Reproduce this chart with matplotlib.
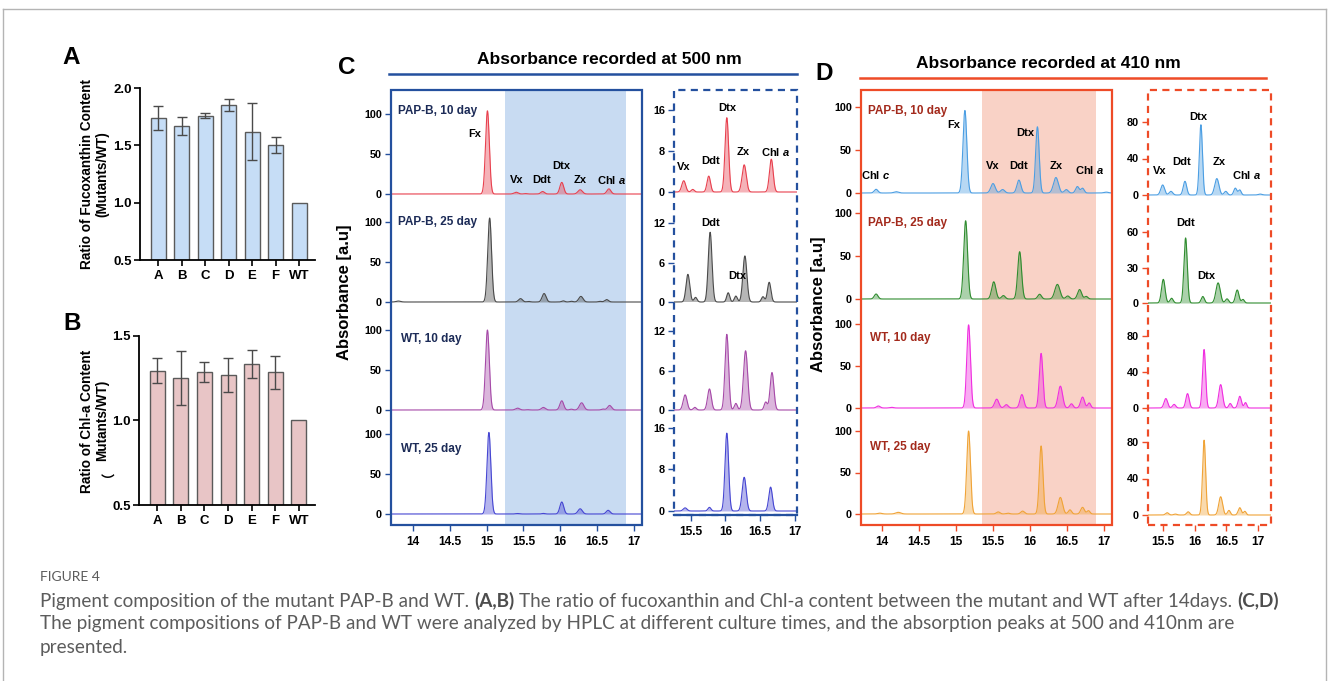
import numpy as np
import matplotlib.pyplot as plt
from matplotlib.patches import Rectangle
from matplotlib.lines import Line2D

W, H = 1328, 681

plt.rcParams['font.family'] = ['Liberation Sans', 'DejaVu Sans']
plt.rcParams['font.weight'] = 'bold'
plt.rcParams['mathtext.fontset'] = 'custom'
plt.rcParams['mathtext.rm'] = 'Liberation Sans:bold'
plt.rcParams['mathtext.it'] = 'Liberation Sans:bold:italic'

# ---- A, B : ratio mutant / WT
strains = ['A', 'B', 'C', 'D', 'E', 'F', 'WT']
fx_ratio = [1.74, 1.67, 1.76, 1.85, 1.62, 1.50, 1.00]
fx_sd = [0.106, 0.08, 0.02, 0.05, 0.246, 0.069]
chla_ratio = [1.295, 1.25, 1.288, 1.268, 1.335, 1.285, 1.00]
chla_sd = [0.074, 0.16, 0.06, 0.10, 0.082, 0.097]

# ---- C, D : HPLC peaks  (retention time [min], height, sigma [min])
pap10_500 = [(15.01, 104, 0.026), (15.40, 2.2, 0.028), (15.53, 0.5, 0.022), (15.76, 3.1, 0.025),
             (16.02, 14.5, 0.026), (16.27, 5.3, 0.03), (16.66, 6.4, 0.027)]
pap25_500 = [(13.80, 1.2, 0.03), (15.04, 105, 0.026), (15.46, 4.2, 0.027), (15.57, 0.7, 0.022),
             (15.78, 10.6, 0.027), (16.04, 1.4, 0.022), (16.15, 0.9, 0.022), (16.28, 7.0, 0.029),
             (16.54, 0.8, 0.022), (16.63, 3.0, 0.025)]
wt10_500 = [(15.01, 100, 0.026), (15.42, 2.3, 0.028), (15.56, 0.4, 0.022), (15.77, 3.2, 0.027),
            (16.02, 11.5, 0.026), (16.15, 1.0, 0.022), (16.29, 9.0, 0.03), (16.58, 1.2, 0.022),
            (16.67, 5.7, 0.027)]
wt25_500 = [(15.03, 102, 0.026), (15.42, 0.6, 0.027), (15.77, 0.7, 0.022), (16.02, 15.0, 0.026),
            (16.27, 6.5, 0.029), (16.65, 4.6, 0.026)]

pap10_410 = [(13.92, 4.3, 0.025), (14.19, 1.5, 0.03), (15.12, 96, 0.026), (15.50, 11, 0.03),
             (15.63, 4, 0.028), (15.85, 15, 0.027), (16.10, 77, 0.024), (16.35, 18, 0.033),
             (16.49, 4, 0.025), (16.64, 7.5, 0.024), (16.71, 5.5, 0.022), (17.03, 1, 0.03)]
pap25_410 = [(13.92, 5.8, 0.025), (15.13, 91, 0.026), (15.51, 20, 0.028), (15.64, 4, 0.025),
             (15.86, 55, 0.026), (16.13, 5.5, 0.025), (16.37, 17, 0.034), (16.51, 3.5, 0.025),
             (16.67, 11, 0.027), (16.76, 3, 0.022)]
wt10_410 = [(13.95, 2.4, 0.025), (14.13, 0.8, 0.025), (15.17, 99, 0.025), (15.55, 10.5, 0.028),
            (15.68, 4, 0.025), (15.89, 16, 0.026), (16.15, 65, 0.024), (16.41, 26, 0.03),
            (16.56, 5, 0.022), (16.71, 13, 0.026), (16.80, 6, 0.02)]
wt25_410 = [(13.97, 1, 0.03), (14.22, 2, 0.035), (15.17, 100, 0.025), (15.57, 2.5, 0.025),
            (15.70, 1, 0.025), (15.90, 3.5, 0.025), (16.15, 82, 0.024), (16.41, 20, 0.03),
            (16.54, 5, 0.022), (16.71, 8, 0.025), (16.79, 4, 0.02)]

samples = ['PAP-B, 10 day', 'PAP-B, 25 day', 'WT, 10 day', 'WT, 25 day']
traces_500 = [pap10_500, pap25_500, wt10_500, wt25_500]
traces_410 = [pap10_410, pap25_410, wt10_410, wt25_410]
colors_500 = ['#e8404e', '#4a4a4a', '#a64aa8', '#4646d2']
colors_410 = ['#4b9ee3', '#2f8c2f', '#f02ee0', '#f0a336']

blue = '#24509e'
red = '#ee4b27'

fig = plt.figure(figsize=(W / 100, H / 100), dpi=100)
rend = fig.canvas.get_renderer()


def fx(x):
    return x / W


def fy(y):
    return 1 - y / H


def px_axes(x0, y0, x1, y1):
    return fig.add_axes([fx(x0), fy(y1), (x1 - x0) / W, (y1 - y0) / H])


# card border
for xs, ys in [([3, 1326], [9, 9]), ([3, 3], [9, 681]), ([1326, 1326], [9, 681])]:
    fig.add_artist(Line2D([fx(v) for v in xs], [fy(v) for v in ys], color='#b4b4b4', lw=1))


# ---------------- bar panels ----------------
def bar_panel(box, vals, sd, face, ticks):
    ax = px_axes(*box)
    x = np.arange(len(strains))
    ax.bar(x, vals, width=0.64, color=face, edgecolor='#5a5a5a', lw=1.0, zorder=2)
    ax.errorbar(x[:len(sd)], vals[:len(sd)], yerr=sd, fmt='none', ecolor='#4a4a4a',
                elinewidth=1, capsize=3.5, capthick=1, zorder=3)
    ax.set_xlim(-0.77, 6.68)
    ax.set_ylim(ticks[0], ticks[-1])
    ax.set_yticks(ticks)
    ax.set_yticklabels([f'{t:.1f}' for t in ticks])
    ax.set_xticks(x)
    ax.set_xticklabels(strains)
    for s in ['top', 'right']:
        ax.spines[s].set_visible(False)
    for s in ['left', 'bottom']:
        ax.spines[s].set_linewidth(1.3)
    ax.tick_params(length=4, width=1.2, labelsize=9.5, pad=2)
    ax.tick_params(axis='x', labelsize=9.5, pad=3)
    ax.patch.set_visible(False)
    return ax


bar_panel((140, 88, 315, 260), fx_ratio, fx_sd, '#c6ddf6', [0.5, 1.0, 1.5, 2.0])
bar_panel((139, 336, 315, 505), chla_ratio, chla_sd, '#e8c5c6', [0.5, 1.0, 1.5])

# y labels of the bar panels, one text per line
fig.text(fx(87), fy(174), 'Ratio of Fucoxanthin Content', rotation=90,
         ha='center', va='center', fontsize=9.8)
fig.text(fx(102), fy(174), '(Mutants/WT)', rotation=90, ha='center', va='center', fontsize=9.8)
fig.text(fx(87), fy(421), 'Ratio of Chl-a Content', rotation=90,
         ha='center', va='center', fontsize=9.8)
# full-width bracket only exists in the CJK font; keep it as its own text
fig.text(fx(102), fy(470), '（', rotation=90, ha='center', va='center', fontsize=9.8,
         family='Noto Sans CJK SC')
fig.text(fx(102), fy(420), 'Mutants/WT)', rotation=90, ha='center', va='center', fontsize=9.8)

fig.text(fx(71), fy(58), 'A', fontsize=17.5, ha='center', va='center')
fig.text(fx(72), fy(324), 'B', fontsize=17.5, ha='center', va='center')
fig.text(fx(347), fy(68), 'C', fontsize=17.5, ha='center', va='center')
fig.text(fx(824), fy(73), 'D', fontsize=17.5, ha='center', va='center')


# ---------------- chromatogram stacks ----------------
def trace(ax, peaks, color):
    t = np.linspace(13.6, 17.4, 4000)
    y = np.zeros_like(t)
    for rt, h, w in peaks:
        y += h * np.exp(-0.5 * ((t - rt) / w) ** 2)
    ax.fill_between(t, 0, y, color=color, alpha=0.4, lw=0, zorder=2)
    ax.plot(t, y, color=color, lw=0.8, zorder=3)


def stack(x0, x1, bounds, zeros, ppu, xlim, xticks, yticks, edge, dashed):
    axs = []
    for i in range(4):
        top, bot = bounds[i], bounds[i + 1]
        ax = px_axes(x0, top, x1, bot)
        ax.set_xlim(xlim)
        ax.set_ylim(-(bot - zeros[i]) / ppu[i], (zeros[i] - top) / ppu[i])
        ax.patch.set_visible(False)
        for sp in ax.spines.values():
            sp.set_visible(False)
        ax.set_yticks(yticks[i])
        ax.tick_params(axis='y', direction='out', length=4, width=1, color=edge,
                       labelsize=7.8, pad=2.5)
        ax.set_xticks(xticks)
        ax.set_xticklabels([f'{v:g}' for v in xticks])
        ax.tick_params(axis='x', bottom=(i == 3), labelbottom=(i == 3), direction='out',
                       length=4, width=1, color=edge, labelsize=8.6, pad=4)
        axs.append(ax)
    ls = (0, (3.2, 2.4)) if dashed else '-'
    fig.add_artist(Rectangle((fx(x0), fy(bounds[-1])), (x1 - x0) / W, (bounds[-1] - bounds[0]) / H,
                             transform=fig.transFigure, fill=False, ec=edge, lw=1.6, ls=ls,
                             zorder=20))
    return axs


def peak_labels(ax, items):
    for name, x, y in items:
        ax.text(x, y, name, ha='center', va='center', fontsize=8, zorder=5)


def sample_labels(axs, pos, color):
    for ax, s, (x, y) in zip(axs, samples, pos):
        ax.text(x, y, s, transform=ax.transAxes, ha='left', va='center', fontsize=8.5,
                color=color, zorder=5)


main_ticks = [14, 14.5, 15, 15.5, 16, 16.5, 17]
inset_ticks = [15.5, 16, 16.5, 17]

# C : 500 nm
c_main = stack(391, 642, [90, 200, 308, 416, 525], [194, 302, 410, 514], [0.8, 0.8, 0.8, 0.8],
               (13.70, 17.11), main_ticks, [[0, 50, 100]] * 4, blue, False)
for ax, tr, c in zip(c_main, traces_500, colors_500):
    ax.axvspan(15.25, 16.89, color='#c8dbf2', lw=0, zorder=0)
    trace(ax, tr, c)
peak_labels(c_main[0], [('Fx', 14.84, 75), ('Vx', 15.41, 17.5), ('Ddt', 15.74, 17.5),
                        ('Dtx', 16.02, 35), ('Zx', 16.27, 17.5), ('Chl $a$', 16.70, 17.5)])
sample_labels(c_main, [(0.028, 0.81), (0.028, 0.80), (0.04, 0.71), (0.04, 0.70)], '#1c2b57')

c_ins = stack(674, 797, [90, 198, 306, 414, 515], [192, 302, 410, 511], [5.125, 6.58, 6.58, 5.19],
              (15.26, 17.03), inset_ticks, [[0, 8, 16], [0, 6, 12], [0, 6, 12], [0, 8, 16]],
              blue, True)
fig.add_artist(Line2D([fx(674), fx(797)], [fy(515), fy(515)], color=blue, lw=1.6, zorder=21))
for ax, tr, c in zip(c_ins, traces_500, colors_500):
    trace(ax, tr, c)
peak_labels(c_ins[0], [('Vx', 15.40, 4.9), ('Ddt', 15.79, 6.0), ('Dtx', 16.02, 16.4),
                       ('Zx', 16.26, 7.8), ('Chl $a$', 16.72, 7.8)])
peak_labels(c_ins[1], [('Ddt', 15.78, 12.0), ('Dtx', 16.17, 4.0)])

fig.text(fx(609), fy(60), 'Absorbance recorded at 500 nm', ha='center', va='center', fontsize=12.5)
fig.add_artist(Line2D([fx(389), fx(797)], [fy(74), fy(74)], color=blue, lw=1.8))
fig.text(fx(345), fy(292), 'Absorbance [a.u]', rotation=90, ha='center', va='center', fontsize=12)

# D : 410 nm
d_main = stack(861, 1112, [90, 200, 306, 414, 525], [193, 299, 408, 514], [0.86, 0.86, 0.84, 0.83],
               (13.716, 17.108), main_ticks, [[0, 50, 100]] * 4, red, False)
for ax, tr, c in zip(d_main, traces_410, colors_410):
    ax.axvspan(15.35, 16.89, color='#f9d2c6', lw=0, zorder=0)
    trace(ax, tr, c)
peak_labels(d_main[0], [('Chl $c$', 13.91, 21), ('Fx', 14.97, 79), ('Vx', 15.50, 31),
                        ('Ddt', 15.84, 31), ('Dtx', 15.93, 70), ('Zx', 16.36, 31),
                        ('Chl $a$', 16.80, 27)])
sample_labels(d_main, [(0.028, 0.81), (0.028, 0.78), (0.036, 0.70), (0.036, 0.70)], '#a32a1c')

d_ins = stack(1148, 1271, [90, 200, 308, 414, 525], [195, 303, 408, 515], [0.9125, 1.183, 0.9, 0.9125],
              (15.27, 17.2), inset_ticks, [[0, 40, 80], [0, 30, 60], [0, 40, 80], [0, 40, 80]],
              red, True)
for ax, tr, c in zip(d_ins, traces_410, colors_410):
    trace(ax, tr, c)
peak_labels(d_ins[0], [('Vx', 15.46, 26), ('Ddt', 15.80, 36), ('Dtx', 16.06, 85),
                       ('Zx', 16.39, 36), ('Chl $a$', 16.82, 22)])
peak_labels(d_ins[1], [('Ddt', 15.86, 68), ('Dtx', 16.18, 23)])

fig.text(fx(1048), fy(63), 'Absorbance recorded at 410 nm', ha='center', va='center', fontsize=12.5)
fig.add_artist(Line2D([fx(860), fx(1266)], [fy(78), fy(78)], color=red, lw=1.8))
fig.text(fx(819), fy(304), 'Absorbance [a.u]', rotation=90, ha='center', va='center', fontsize=12)

# ---------------- caption ----------------
cap_font = 'Lato'
line1 = [('Pigment composition of the mutant PAP-B and WT.', False), ('(A,B)', True),
         ('The ratio of fucoxanthin and Chl-a content between the mutant and WT after 14days.', False),
         ('(C,D)', True)]
line2 = [('The pigment compositions of PAP-B and WT were analyzed by HPLC at different culture '
          'times, and the absorption peaks at 500 and 410nm are', False)]
line3 = [('presented.', False)]


def text_w(s, size, bold):
    t = fig.text(0, 0, s, fontsize=size, family=cap_font, weight='bold' if bold else 'normal')
    w = t.get_window_extent(renderer=rend).width
    t.remove()
    return w


def line_w(parts, size):
    gap = text_w('x x', size, False) - text_w('xx', size, False)
    return sum(text_w(s, size, b) for s, b in parts) + gap * (len(parts) - 1)


cap_size = 11 * 1233 / line_w(line1, 11)


def rich_line(parts, x, y, size):
    gap = text_w('x x', size, False) - text_w('xx', size, False)
    for s, b in parts:
        t = fig.text(fx(x), fy(y), s, fontsize=size, family=cap_font,
                     weight='bold' if b else 'normal', color='#4d4d4d' if b else '#5c5c5c',
                     ha='left', va='center')
        x += t.get_window_extent(renderer=rend).width + gap


fig.text(fx(40), fy(577), 'FIGURE 4', fontsize=10, family=cap_font, weight='normal',
         color='#5c5c5c', ha='left', va='center')
rich_line(line1, 40, 601, cap_size)
rich_line(line2, 40, 624, cap_size)
rich_line(line3, 40, 647, cap_size)

fig.savefig('out.png', dpi=100, facecolor='white')
